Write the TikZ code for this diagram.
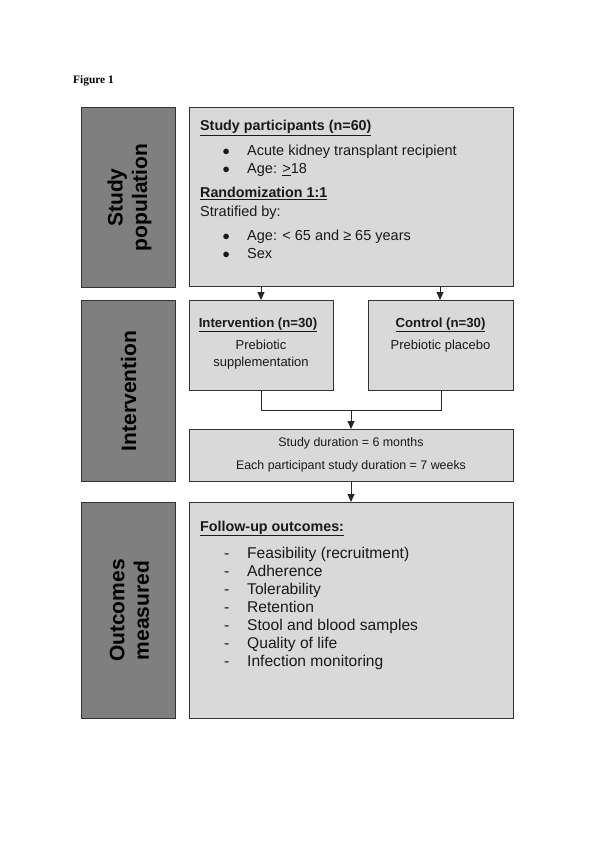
\documentclass[tikz,border=0pt]{standalone}
\usepackage{fontspec}
\setmainfont{Liberation Sans}
\newfontfamily\timesf{Liberation Serif}
\usetikzlibrary{arrows.meta}
\definecolor{darkfill}{HTML}{7F7F7F}
\definecolor{lightfill}{HTML}{D9D9D9}
\definecolor{edge}{HTML}{333333}
\tikzset{
  sidebox/.style={draw=edge, line width=1pt, fill=darkfill, anchor=north west, inner sep=0pt},
  mainbox/.style={draw=edge, line width=1pt, fill=lightfill, anchor=north west, inner sep=0pt},
  sidelabel/.style={rotate=90, align=center, font=\fontsize{21}{24.5}\selectfont\bfseries, text=black},
  txt/.style={anchor=base west, inner sep=0pt, text=black!90},
  ctxt/.style={anchor=base, inner sep=0pt, text=black!90},
  conn/.style={draw=black!85, line width=0.9pt},
  arr/.style={conn, -{Triangle[length=8pt,width=7pt]}}
}
\begin{document}
\begin{tikzpicture}[x=1pt,y=-1pt]
\useasboundingbox (0,0) rectangle (595,842);
\node[txt, text=black, font=\timesf\bfseries\fontsize{11.4}{13}\selectfont] (fig) at (73,84) {Figure 1};

% side boxes
\node[sidebox, minimum width=94pt, minimum height=180pt] (s1) at (81,107) {};
\node[sidebox, minimum width=94pt, minimum height=181pt] (s2) at (81,300) {};
\node[sidebox, minimum width=94pt, minimum height=216pt] (s3) at (81,502) {};
\node[sidelabel] (l1) at ([xshift=1pt]s1.center) {Study\\population};
\node[sidelabel] (l2) at (s2.center) {Intervention};
\node[sidelabel] (l3) at ([xshift=1pt]s3.center) {Outcomes\\measured};

% main boxes
\node[mainbox, minimum width=324pt, minimum height=179pt] (pop) at (189,107) {};
\node[mainbox, minimum width=144pt, minimum height=90pt] (int) at (189,300) {};
\node[mainbox, minimum width=145pt, minimum height=90pt] (ctl) at (368,300) {};
\node[mainbox, minimum width=324pt, minimum height=52pt] (dur) at (189,429) {};
\node[mainbox, minimum width=324pt, minimum height=216pt] (out) at (189,502) {};

% population text
\begin{scope}[font=\fontsize{14.5}{17}\selectfont]
\node[txt, font=\fontsize{14.3}{17}\selectfont\bfseries] (p1) at (200,131) {\underline{Study participants (n=60)}};
\node[txt] (b1) at (222.5,156) {$\bullet$};
\node[txt] (p2) at (247,156) {Acute kidney transplant recipient};
\node[txt] (b2) at (222.5,173.5) {$\bullet$};
\node[txt] (p3) at (247,173.5) {Age: \underline{>}18};
\node[txt, font=\fontsize{14.3}{17}\selectfont\bfseries] (p4) at (200,198) {\underline{Randomization 1:1}};
\node[txt] (p5) at (200,216) {Stratified by:};
\node[txt] (b3) at (222.5,240.5) {$\bullet$};
\node[txt] (p6) at (247,240.5) {Age: < 65 and ≥ 65 years};
\node[txt] (b4) at (222.5,258) {$\bullet$};
\node[txt] (p7) at (247,258) {Sex};
\end{scope}

% intervention / control text
\begin{scope}[font=\fontsize{13}{15}\selectfont]
\node[ctxt, font=\fontsize{13.2}{15}\selectfont\bfseries] (i1) at (258,327) {\underline{Intervention (n=30)}};
\node[ctxt] (i2) at (261,349.5) {Prebiotic};
\node[ctxt] (i3) at (261,366.5) {supplementation};
\node[ctxt, font=\fontsize{13.2}{15}\selectfont\bfseries] (c1) at (440.5,327) {\underline{Control (n=30)}};
\node[ctxt] (c2) at (440.5,349.5) {Prebiotic placebo};
\end{scope}

% duration text
\begin{scope}[font=\fontsize{12.4}{15}\selectfont]
\node[ctxt] (d1) at (351,446.5) {Study duration = 6 months};
\node[ctxt] (d2) at (351,469.5) {Each participant study duration = 7 weeks};
\end{scope}

% outcomes text
\begin{scope}[font=\fontsize{15.6}{18}\selectfont]
\node[txt, font=\fontsize{14.3}{17}\selectfont\bfseries] (o0) at (200,531) {\underline{Follow-up outcomes:}};
\foreach \t [count=\i] in {Feasibility (recruitment),Adherence,Tolerability,Retention,Stool and blood samples,Quality of life,Infection monitoring}{
  \node[txt] (od\i) at (224,540+18.1*\i) {-};
  \node[txt] (o\i) at (247,540+18.1*\i) {\t};
}
\end{scope}

% connectors
\coordinate (a1) at (261,286);
\coordinate (a2) at (440,286);
\coordinate (j) at (351,410);
\draw[arr] (a1) -- (int.north -| a1);
\draw[arr] (a2) -- (ctl.north -| a2);
\draw[conn] (int.south) -- (int.south |- j) -- (ctl.south |- j) -- (ctl.south);
\draw[arr] (j) -- (dur.north -| j);
\draw[arr] (dur.south -| j) -- (out.north -| j);
\end{tikzpicture}
\end{document}
